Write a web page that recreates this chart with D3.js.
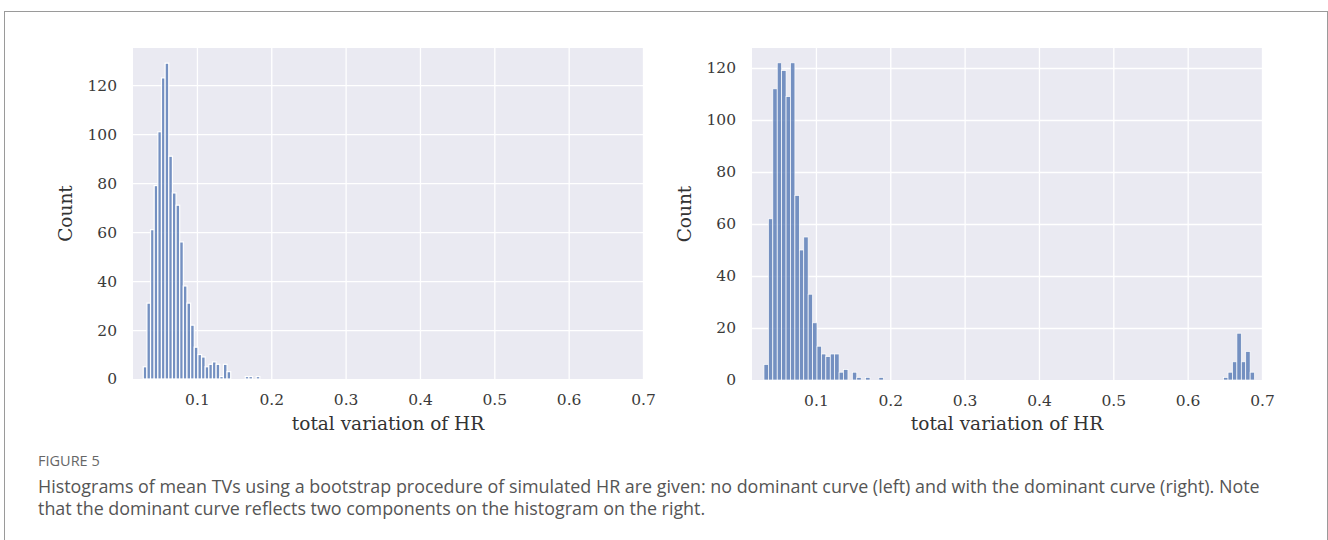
<!DOCTYPE html>
<html>
<head>
<meta charset="utf-8">
<script src="https://cdn.jsdelivr.net/npm/d3@7"></script>
<style>
  html, body { margin: 0; padding: 0; background: #fff; }
  svg { display: block; }
</style>
</head>
<body>
<svg id="chart" width="1328" height="540"></svg>
<script>
// ---------------- data ----------------
// Left histogram: no dominant curve
const leftBinStart = 0.0278;
const leftBinWidth = 0.0049;
const leftCounts = [5, 31, 61, 79, 101, 123, 129, 91, 76, 71, 56, 38, 31, 22, 13, 10, 9, 5, 6, 7, 6, 1, 6, 3, 0, 0, 0, 0, 1, 1, 0, 1];

// Right histogram: with the dominant curve (two components)
const rightBinStart = 0.0301;
const rightBinWidth = 0.005945;
const rightMainCounts = [6, 62, 112, 122, 119, 109, 122, 71, 50, 55, 33, 22, 13, 10, 9, 10, 10, 3, 4, 0, 3, 1, 0, 1, 0, 0, 1];
const rightTailStartIndex = 104;
const rightTailCounts = [1, 3, 7, 18, 7, 11, 3];

const xTicks = [0.1, 0.2, 0.3, 0.4, 0.5, 0.6, 0.7];
const leftYTicks = [0, 20, 40, 60, 80, 100, 120];
const rightYTicks = [0, 20, 40, 60, 80, 100, 120];
const xDomain = [0.014, 0.700];
const leftYMax = 135.2;
const rightYMax = 127.7;

const xLabel = "total variation of HR";
const yLabel = "Count";
const figLabel = "FIGURE 5";
const captionLines = [
  "Histograms of mean TVs using a bootstrap procedure of simulated HR are given: no dominant curve (left) and with the dominant curve (right). Note",
  "that the dominant curve reflects two components on the histogram on the right."
];

// build bins
function makeBins(start, width, counts, offset) {
  return counts.map((c, i) => ({ x0: start + (offset + i) * width, x1: start + (offset + i + 1) * width, count: c }));
}
const leftBins = makeBins(leftBinStart, leftBinWidth, leftCounts, 0);
const rightBins = makeBins(rightBinStart, rightBinWidth, rightMainCounts, 0)
  .concat(makeBins(rightBinStart, rightBinWidth, rightTailCounts, rightTailStartIndex));

// ---------------- drawing ----------------
const svg = d3.select("#chart");

// outer frame
svg.append("rect")
  .attr("x", 4.5).attr("y", 11.5)
  .attr("width", 1323).attr("height", 600)
  .attr("fill", "none").attr("stroke", "#9a9a9a").attr("stroke-width", 1);

const serif = "'DejaVu Serif', serif";

function panel(opts) {
  const { left, right, top, bottom, bins, yMax, yTicks, strokeW, labelX } = opts;
  const x = d3.scaleLinear().domain(xDomain).range([left, right]);
  const y = d3.scaleLinear().domain([0, yMax]).range([bottom, top]);
  const g = svg.append("g");

  g.append("rect")
    .attr("x", left).attr("y", top)
    .attr("width", right - left).attr("height", bottom - top)
    .attr("fill", "#eaeaf2");

  const gx = g.append("g").attr("transform", `translate(0,${bottom})`)
    .call(d3.axisBottom(x).tickValues(xTicks).tickSize(-(bottom - top)).tickFormat(d3.format(".1f")).tickPadding(15));
  const gy = g.append("g").attr("transform", `translate(${left},0)`)
    .call(d3.axisLeft(y).tickValues(yTicks).tickSize(-(right - left)).tickFormat(d3.format("d")).tickPadding(16));
  [gx, gy].forEach(a => {
    a.select(".domain").remove();
    a.selectAll(".tick line").attr("stroke", "#ffffff").attr("stroke-width", 1.3);
    a.selectAll(".tick text")
      .attr("fill", "#3a3a3a")
      .style("font-family", serif)
      .style("font-size", "15.5px");
  });
  gy.selectAll(".tick").filter(d => d === 0).select("line").attr("stroke-opacity", 0);

  g.append("g").selectAll("rect").data(bins.filter(d => d.count > 0)).join("rect")
    .attr("x", d => x(d.x0))
    .attr("width", d => x(d.x1) - x(d.x0))
    .attr("y", d => y(d.count))
    .attr("height", d => y(0) - y(d.count))
    .attr("fill", "#4c72b0").attr("fill-opacity", 0.75)
    .attr("stroke", "#ffffff").attr("stroke-width", strokeW);

  g.append("text")
    .attr("x", (left + right) / 2).attr("y", 430)
    .attr("text-anchor", "middle")
    .attr("fill", "#333")
    .style("font-family", serif).style("font-size", "18.5px")
    .text(xLabel);
  g.append("text")
    .attr("transform", `translate(${labelX},${(top + bottom) / 2}) rotate(-90)`)
    .attr("text-anchor", "middle").attr("dy", "0.35em")
    .attr("fill", "#333")
    .style("font-family", serif).style("font-size", "18.5px")
    .text(yLabel);
}

panel({ left: 133, right: 643, top: 48, bottom: 379, bins: leftBins, yMax: leftYMax, yTicks: leftYTicks, strokeW: 1.2, labelX: 66 });
panel({ left: 752, right: 1262, top: 48, bottom: 380, bins: rightBins, yMax: rightYMax, yTicks: rightYTicks, strokeW: 0.7, labelX: 685 });

// caption
svg.append("text")
  .attr("x", 38).attr("y", 466)
  .attr("fill", "#666")
  .style("font-family", "'Open Sans', sans-serif").style("font-size", "14.5px")
  .text(figLabel);
svg.append("g").selectAll("text").data(captionLines).join("text")
  .attr("x", 38).attr("y", (d, i) => 493 + i * 21.5)
  .attr("fill", "#555")
  .style("font-family", "'Open Sans', sans-serif").style("font-size", "17.9px")
  .text(d => d);
</script>
</body>
</html>
